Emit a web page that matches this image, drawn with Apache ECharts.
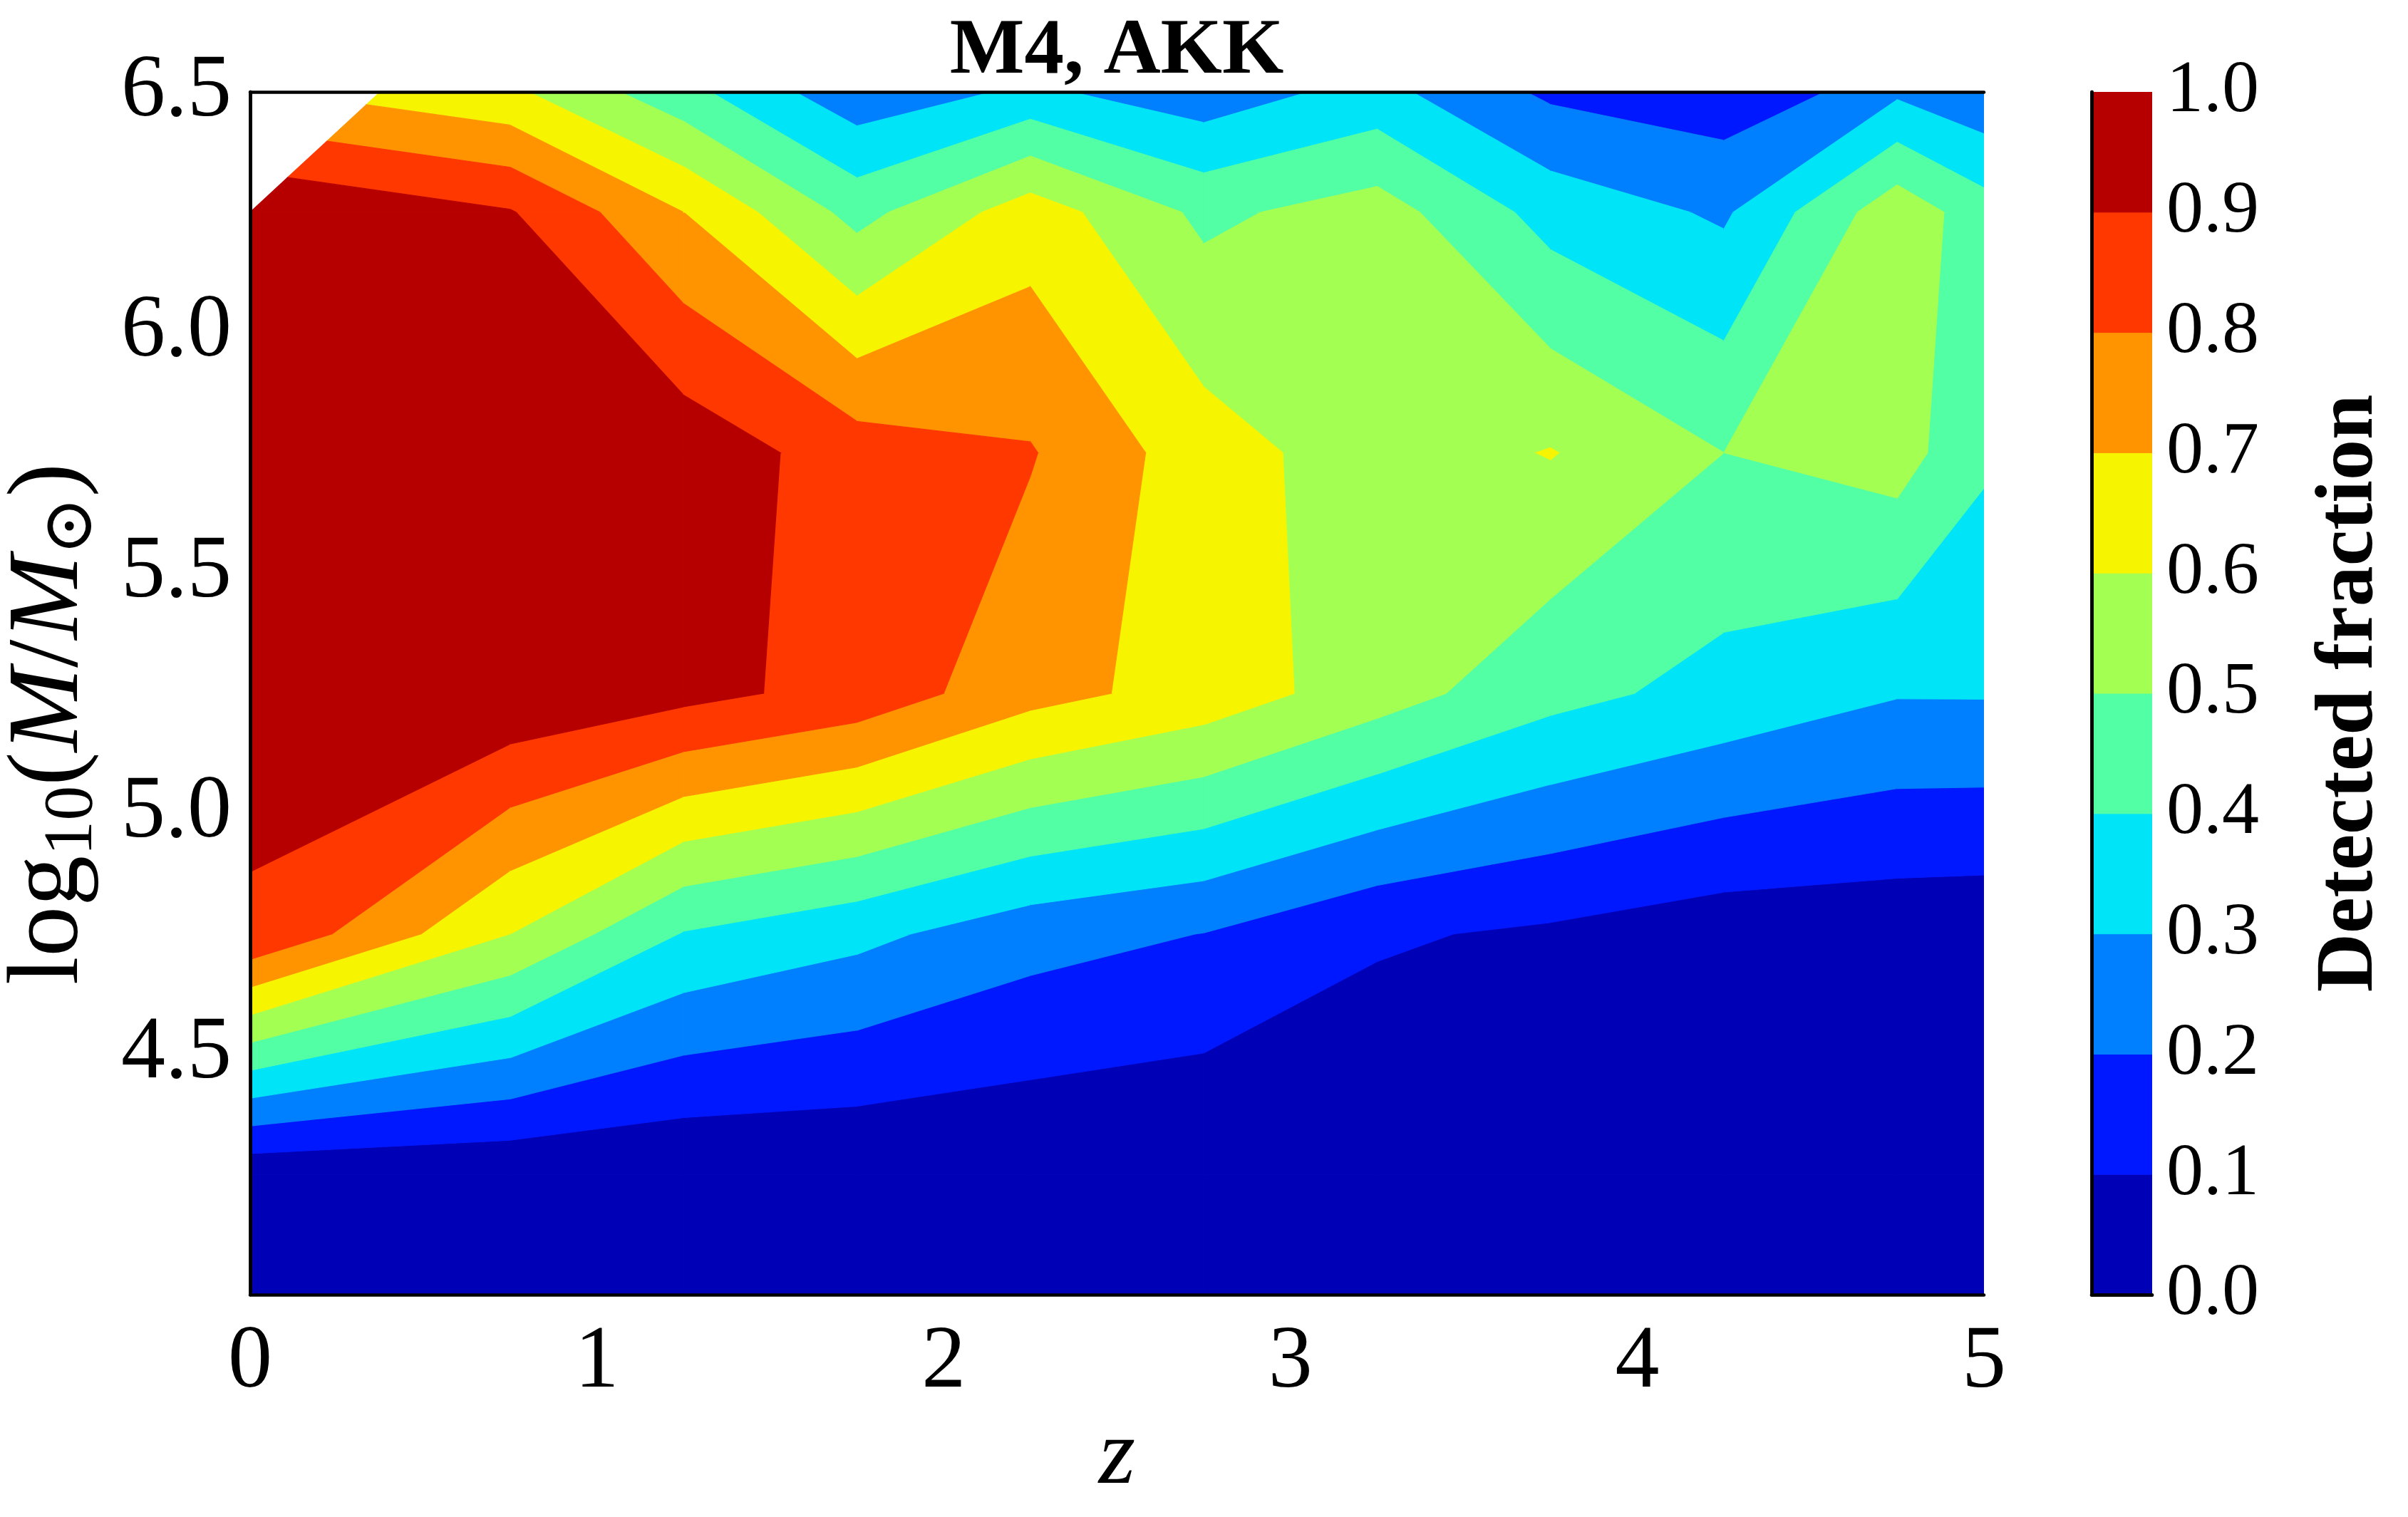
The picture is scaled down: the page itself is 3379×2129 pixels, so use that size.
<!DOCTYPE html>
<html>
<head>
<meta charset="utf-8">
<script src="https://cdn.jsdelivr.net/npm/echarts/dist/echarts.min.js"></script>
<style>
html,body{margin:0;padding:0;background:#ffffff;}
#chart{width:3379px;height:2129px;}
</style>
</head>
<body>
<div id="chart"></div>
<script>
// ---- grid of the contour data (redshift z columns, log10 mass rows) ----
const zGrid = [0, 0.75, 1.25, 1.75, 2.25, 2.75, 3.25, 3.75, 4.25, 4.75, 5.0];
const massGrid = [3.75, 4.25, 4.75, 5.25, 5.75, 6.25, 6.75];

// detected fraction at each mass row (one value per z column); null = masked
const frac_m375 = [0.000, 0.000, 0.000, 0.000, 0.000, 0.000, 0.000, 0.000, 0.000, 0.000, 0.000];
const frac_m425 = [0.025, 0.017, 0.009, 0.010, 0.009, 0.000, 0.000, 0.000, 0.000, 0.000, 0.000];
const frac_m475 = [0.892, 0.600, 0.394, 0.327, 0.240, 0.198, 0.113, 0.0835, 0.044, 0.038, 0.033];
const frac_m525 = [0.923, 0.980, 0.930, 0.865, 0.735, 0.660, 0.545, 0.432, 0.366, 0.306, 0.3066];
const frac_m575 = [0.960, 0.970, 0.963, 0.850, 0.807, 0.646, 0.545, 0.605, 0.500, 0.545, 0.416];
const frac_m625 = [0.995, 0.907, 0.700, 0.466, 0.652, 0.478, 0.545, 0.362, 0.285, 0.564, 0.445];
const frac_m675 = [null, 0.335, 0.170, 0.003, 0.000, 0.000, 0.125, 0.000, 0.000, 0.000, 0.000];

const fracRows = [frac_m375, frac_m425, frac_m475, frac_m525, frac_m575, frac_m625, frac_m675];

// contour levels and band colours (jet)
const levels = [0.0, 0.1, 0.2, 0.3, 0.4, 0.5, 0.6, 0.7, 0.8, 0.9, 1.0];
const bandColors = ['#0000B6', '#0018FF', '#0080FF', '#00E4F7', '#53FFA4',
                    '#A4FF53', '#F7F400', '#FF9400', '#FF3800', '#B60000'];

const zTicks = [0, 1, 2, 3, 4, 5];
const massTicks = [4.5, 5.0, 5.5, 6.0, 6.5];

const FONT = "'Liberation Serif', 'DejaVu Serif', serif";

// quads of the grid (center coords + indices)
const quadData = [];
for (let j = 0; j < massGrid.length - 1; j++) {
  for (let i = 0; i < zGrid.length - 1; i++) {
    quadData.push([(zGrid[i] + zGrid[i + 1]) / 2, (massGrid[j] + massGrid[j + 1]) / 2, i, j]);
  }
}

function renderQuad(params, api) {
  const i = api.value(2), j = api.value(3);
  const corners = [[i, j], [i + 1, j], [i + 1, j + 1], [i, j + 1]];
  const pts = [];
  for (const c of corners) {
    const v = fracRows[c[1]][c[0]];
    if (v === null || v === undefined) continue;
    pts.push({ z: zGrid[c[0]], m: massGrid[c[1]], v: v });
  }
  if (pts.length < 3) return { type: 'group', children: [] };
  const children = [];
  for (let k = 0; k < bandColors.length; k++) {
    const lo = levels[k], hi = levels[k + 1];
    const poly = [];
    for (let e = 0; e < pts.length; e++) {
      const a = pts[e], b = pts[(e + 1) % pts.length];
      if (a.v >= lo && a.v <= hi) poly.push(api.coord([a.z, a.m]));
      const ts = [];
      [lo, hi].forEach(function (L) {
        if ((a.v < L && b.v > L) || (a.v > L && b.v < L)) ts.push((L - a.v) / (b.v - a.v));
      });
      ts.sort(function (p, q) { return p - q; });
      ts.forEach(function (t) {
        poly.push(api.coord([a.z + t * (b.z - a.z), a.m + t * (b.m - a.m)]));
      });
    }
    if (poly.length >= 3) {
      children.push({
        type: 'polygon',
        shape: { points: poly },
        style: { fill: bandColors[k], stroke: bandColors[k], lineWidth: 1.2 }
      });
    }
  }
  return { type: 'group', children: children };
}

const barData = [];
for (let k = 0; k < bandColors.length; k++) barData.push([0.5, (levels[k] + levels[k + 1]) / 2, levels[k], levels[k + 1], k]);

function renderBar(params, api) {
  const lo = api.value(2), hi = api.value(3), k = api.value(4);
  const p0 = api.coord([0, lo]);
  const p1 = api.coord([1, hi]);
  return {
    type: 'rect',
    shape: { x: p0[0], y: p1[1], width: p1[0] - p0[0], height: p0[1] - p1[1] },
    style: { fill: bandColors[k], stroke: bandColors[k], lineWidth: 1 }
  };
}

const spine = { show: true, lineStyle: { color: '#000', width: 4.5 } };
const tickLabel = { fontFamily: FONT, fontSize: 124, color: '#000' };

const chart = echarts.init(document.getElementById('chart'), null, { renderer: 'canvas' });
chart.setOption({
  backgroundColor: '#ffffff',
  animation: false,
  textStyle: { fontFamily: FONT },
  grid: [
    { left: 351, top: 129, width: 2433, height: 1688, containLabel: false, outerBoundsMode: 'none' },
    { left: 2935, top: 129, width: 85, height: 1688, containLabel: false, outerBoundsMode: 'none' }
  ],
  xAxis: [
    {
      gridIndex: 0, type: 'value', min: zTicks[0], max: zTicks[zTicks.length - 1], interval: 1,
      position: 'bottom', z: 10,
      axisLine: spine, axisTick: { show: false }, splitLine: { show: false },
      axisLabel: Object.assign({ margin: 34, formatter: function (v) { return String(v); } }, tickLabel),
      name: 'z', nameLocation: 'middle', nameGap: 150,
      nameTextStyle: { fontFamily: FONT, fontStyle: 'italic', fontSize: 132, color: '#000' }
    },
    {
      gridIndex: 0, type: 'value', min: 0, max: 5, position: 'top', z: 10,
      axisLine: spine, axisTick: { show: false }, splitLine: { show: false }, axisLabel: { show: false }
    },
    {
      gridIndex: 1, type: 'value', min: 0, max: 1, position: 'bottom', z: 10,
      axisLine: spine, axisTick: { show: false }, splitLine: { show: false }, axisLabel: { show: false }
    },
    {
      gridIndex: 1, type: 'value', min: 0, max: 1, position: 'top', z: 10,
      axisLine: spine, axisTick: { show: false }, splitLine: { show: false }, axisLabel: { show: false }
    }
  ],
  yAxis: [
    {
      gridIndex: 0, type: 'value', min: 4.0, max: massTicks[massTicks.length - 1], interval: 0.5,
      position: 'left', z: 10,
      axisLine: spine, axisTick: { show: false }, splitLine: { show: false },
      axisLabel: Object.assign({ margin: 26, showMinLabel: false, formatter: function (v) { return v.toFixed(1); } }, tickLabel),
      name: '{r|log}{s|10}{r|(}{i|M}{r|/}{i|M}{s|\u2299}{r|)}',
      nameLocation: 'middle', nameRotate: 90, nameGap: 200,
      nameTextStyle: {
        padding: [0, 86, 0, 0],
        rich: {
          r: { fontFamily: FONT, fontSize: 142, color: '#000', lineHeight: 160 },
          i: { fontFamily: FONT, fontSize: 142, fontStyle: 'italic', color: '#000', lineHeight: 160 },
          s: { fontFamily: FONT, fontSize: 98, color: '#000', lineHeight: 86, verticalAlign: 'bottom' }
        }
      }
    },
    {
      gridIndex: 0, type: 'value', min: 4.0, max: 6.5, position: 'right', z: 10,
      axisLine: spine, axisTick: { show: false }, splitLine: { show: false }, axisLabel: { show: false }
    },
    {
      gridIndex: 1, type: 'value', min: 0, max: 1, position: 'left', z: 10,
      axisLine: spine, axisTick: { show: false }, splitLine: { show: false }, axisLabel: { show: false }
    },
    {
      gridIndex: 1, type: 'value', min: levels[0], max: levels[levels.length - 1], interval: 0.1,
      position: 'right', z: 10,
      axisLine: spine, axisTick: { show: false }, splitLine: { show: false },
      axisLabel: Object.assign({ margin: 20, formatter: function (v) { return v.toFixed(1); } }, tickLabel, { fontSize: 104 }),
      name: 'Detected fraction', nameLocation: 'middle', nameRotate: 90, nameGap: 222,
      nameTextStyle: { fontFamily: FONT, fontWeight: 'bold', fontSize: 114, color: '#000' }
    }
  ],
  graphic: [
    {
      type: 'text', x: 1567, y: 73, z: 20,
      style: { text: 'M4, AKK', fontFamily: FONT, fontWeight: 'bold', fontSize: 111, fill: '#000',
               textAlign: 'center', textVerticalAlign: 'middle', align: 'center', verticalAlign: 'middle' }
    }
  ],
  series: [
    {
      type: 'custom', xAxisIndex: 0, yAxisIndex: 0, clip: true,
      renderItem: renderQuad, data: quadData, encode: { x: 0, y: 1 }, silent: true, z: 2
    },
    {
      type: 'custom', xAxisIndex: 2, yAxisIndex: 3, clip: true,
      renderItem: renderBar, data: barData, encode: { x: 0, y: 1 }, silent: true, z: 2
    }
  ]
});
</script>
</body>
</html>
